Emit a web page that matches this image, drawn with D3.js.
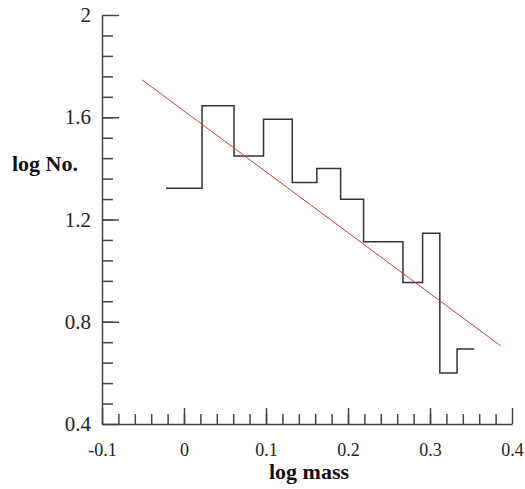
<!DOCTYPE html>
<html>
<head>
<meta charset="utf-8">
<script src="https://cdn.jsdelivr.net/npm/d3@7"></script>
<style>
  body { margin: 0; background: #fff; }
  svg { display: block; overflow: visible; }
</style>
</head>
<body>
<div id="chart"></div>
<script>
// Histogramme (bords des classes et valeurs)
const binEdges = [-0.022, 0.022, 0.061, 0.097, 0.132, 0.162, 0.191, 0.219, 0.267, 0.291, 0.312, 0.333, 0.354];
const binValues = [1.322, 1.645, 1.448, 1.592, 1.345, 1.400, 1.279, 1.113, 0.954, 1.146, 0.600, 0.693];

// Droite d'ajustement
const fitX = [-0.051, 0.386];
const fitY = [1.746, 0.706];

// Graduations
const xMajor = [-0.1, 0, 0.1, 0.2, 0.3, 0.4];
const yMajor = [0.4, 0.8, 1.2, 1.6, 2];
const xMinor = d3.range(-0.08, 0.4, 0.02);
const yMinor = d3.range(0.48, 2, 0.08);

const width = 525;
const height = 489;
const margin = { top: 15, right: 13, bottom: 65, left: 102 };
const innerWidth = width - margin.left - margin.right;
const innerHeight = height - margin.top - margin.bottom;

const svg = d3.select('#chart')
    .append('svg')
    .attr('width', width)
    .attr('height', height);

const g = svg.append('g')
    .attr('transform', `translate(${margin.left},${margin.top})`);

const xScale = d3.scaleLinear().domain([-0.1, 0.4]).range([0, innerWidth]);
const yScale = d3.scaleLinear().domain([0.4, 2]).range([innerHeight, 0]);

const axisColor = '#444';
// tiret simple comme dans l'original (pas de signe moins unicode)
const fmt = d => String(+d.toFixed(1));

// Petites graduations
g.append('g')
    .attr('transform', `translate(0,${innerHeight})`)
    .call(d3.axisBottom(xScale).tickValues(xMinor).tickSize(-10).tickFormat(''))
    .call(a => a.select('.domain').remove());

g.append('g')
    .call(d3.axisLeft(yScale).tickValues(yMinor).tickSize(-11).tickFormat(''))
    .call(a => a.select('.domain').remove());

// Grandes graduations + étiquettes
const xAxisG = g.append('g')
    .attr('transform', `translate(0,${innerHeight})`)
    .call(d3.axisBottom(xScale).tickValues(xMajor).tickSize(-16).tickSizeOuter(0)
        .tickPadding(19).tickFormat(fmt));

const yAxisG = g.append('g')
    .call(d3.axisLeft(yScale).tickValues(yMajor).tickSize(-17).tickSizeOuter(0)
        .tickPadding(11).tickFormat(fmt));

xAxisG.selectAll('text')
    .style('font-family', '"Liberation Serif", "Times New Roman", serif')
    .style('font-size', '18px')
    .style('fill', '#222');

yAxisG.selectAll('text')
    .style('font-family', '"Liberation Serif", "Times New Roman", serif')
    .style('font-size', '21px')
    .style('fill', '#222');

g.selectAll('path.domain, line')
    .style('stroke', axisColor)
    .style('stroke-width', 1.5);

// Histogramme en escalier
const stepPoints = binValues.map((v, i) => [binEdges[i], v]);
stepPoints.push([binEdges[binEdges.length - 1], binValues[binValues.length - 1]]);

const stepLine = d3.line()
    .x(d => xScale(d[0]))
    .y(d => yScale(d[1]))
    .curve(d3.curveStepAfter);

g.append('path')
    .datum(stepPoints)
    .attr('d', stepLine)
    .attr('fill', 'none')
    .attr('stroke', '#333')
    .attr('stroke-width', 1.5);

// Droite rouge
g.append('line')
    .attr('x1', xScale(fitX[0]))
    .attr('y1', yScale(fitY[0]))
    .attr('x2', xScale(fitX[1]))
    .attr('y2', yScale(fitY[1]))
    .attr('stroke', '#d03a3a')
    .attr('stroke-width', 1);

// Titres des axes
svg.append('text')
    .attr('x', 12)
    .attr('y', 171)
    .style('font-family', '"Liberation Serif", "Times New Roman", serif')
    .style('font-size', '22px')
    .style('font-weight', 'bold')
    .style('fill', '#111')
    .text('log No.');

svg.append('text')
    .attr('x', 309)
    .attr('y', 479)
    .attr('text-anchor', 'middle')
    .style('font-family', '"Liberation Serif", "Times New Roman", serif')
    .style('font-size', '22px')
    .style('font-weight', 'bold')
    .style('fill', '#111')
    .text('log mass');
</script>
</body>
</html>
